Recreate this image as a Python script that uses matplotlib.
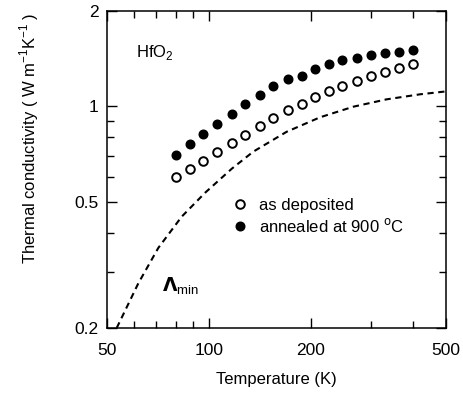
import matplotlib
matplotlib.use("Agg")
import matplotlib.pyplot as plt
from matplotlib.ticker import FixedLocator, NullFormatter, FixedFormatter

plt.rcParams['font.family'] = ['Liberation Sans', 'DejaVu Sans']

# data
temp = [80, 88, 96, 106, 117, 128, 142, 155, 171, 188, 206, 226, 248, 273, 300, 330, 364, 400]
k_deposited = [0.598, 0.635, 0.674, 0.718, 0.765, 0.813, 0.867, 0.921, 0.974, 1.020,
               1.071, 1.119, 1.162, 1.206, 1.245, 1.281, 1.322, 1.361]
k_annealed = [0.703, 0.761, 0.819, 0.880, 0.946, 1.016, 1.089, 1.160, 1.220, 1.250,
              1.309, 1.358, 1.398, 1.425, 1.450, 1.474, 1.488, 1.506]
t_min = [53.5, 62, 71, 83.2, 97.5, 116.9, 135.3, 169.8, 212.9, 267, 335, 420, 500]
k_min = [0.200, 0.277, 0.358, 0.449, 0.534, 0.636, 0.720, 0.832, 0.924,
         0.998, 1.053, 1.092, 1.115]

x_major = [50, 100, 200, 500]
x_major_labels = ["50", "100", "200", "500"]
x_minor = [60, 70, 80, 90, 300, 400]
y_major = [0.2, 0.5, 1, 2]
y_major_labels = ["0.2", "0.5", "1", "2"]
y_minor = [0.3, 0.4, 0.6, 0.7, 0.8, 0.9]

fig = plt.figure(figsize=(4.64, 3.97), dpi=100)
ax = fig.add_axes([0.230, 0.1738, 0.7306, 0.7985])

ax.plot(t_min, k_min, linestyle=(0, (3.0, 2.2)), color='black', lw=1.5)
ax.plot(temp, k_deposited, 'o', ms=6.2, mfc='white', mec='black', mew=1.4, linestyle='none',
        label='as deposited')
ax.plot(temp, k_annealed, 'o', ms=6.2, mfc='black', mec='black', mew=1.0, linestyle='none',
        label='annealed at 900 $^{\\mathrm{o}}$C')

ax.set_xscale('log')
ax.set_yscale('log')
ax.set_xlim(50, 500)
ax.set_ylim(0.2, 2)

ax.xaxis.set_major_locator(FixedLocator(x_major))
ax.xaxis.set_major_formatter(FixedFormatter(x_major_labels))
ax.xaxis.set_minor_locator(FixedLocator(x_minor))
ax.xaxis.set_minor_formatter(NullFormatter())
ax.yaxis.set_major_locator(FixedLocator(y_major))
ax.yaxis.set_major_formatter(FixedFormatter(y_major_labels))
ax.yaxis.set_minor_locator(FixedLocator(y_minor))
ax.yaxis.set_minor_formatter(NullFormatter())

ax.tick_params(which='both', direction='in', top=True, right=True, labelsize=12.5, width=1.0)
ax.tick_params(which='major', length=7)
ax.tick_params(which='minor', length=5)
ax.tick_params(axis='x', which='major', pad=11)
ax.tick_params(axis='y', which='major', pad=6)
for s in ax.spines.values():
    s.set_linewidth(1.1)

ax.set_xlabel('Temperature (K)', fontsize=12, labelpad=10)
ax.set_ylabel('Thermal conductivity ( W m$^{\\mathregular{-1}}$K$^{\\mathregular{-1}}$ )', fontsize=12)
ax.yaxis.set_label_coords(-0.195, 0.60)

ax.text(0.085, 0.87, 'HfO$_{\\mathregular{2}}$', transform=ax.transAxes, fontsize=12,
        ha='left', va='center')
ax.text(0.162, 0.13, '$\\mathbf{\\Lambda}_{\\mathregular{min}}$', transform=ax.transAxes,
        fontsize=13.5, ha='left', va='center')

leg = ax.legend(loc='upper left', bbox_to_anchor=(0.37, 0.41), frameon=False, fontsize=12,
                handletextpad=0.6, handlelength=1.0, borderpad=0, labelspacing=0.25,
                borderaxespad=0)

fig.savefig('out.png', dpi=100)
